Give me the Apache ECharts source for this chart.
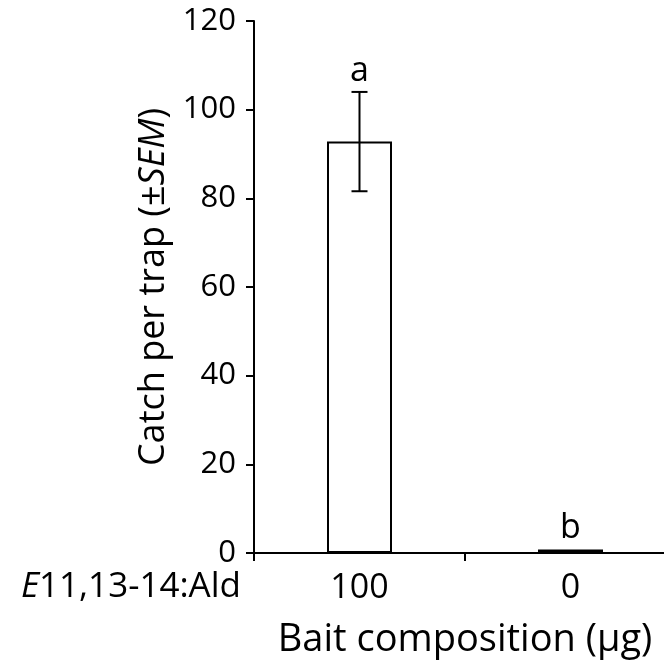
<!DOCTYPE html>
<html>
<head>
<meta charset="utf-8">
<script src="https://cdn.jsdelivr.net/npm/echarts@6/dist/echarts.min.js"></script>
<style>html,body{margin:0;padding:0;background:#fff;overflow:hidden;width:664px;height:664px;}#c{width:680px;height:664px;}</style>
</head>
<body>
<div id="c"></div>
<script>
var categories = ['100', '0'];
var means = [92.8, 0.8];
var sems = [11.2, 0];
var letters = ['a', 'b'];
var yTicks = [0, 20, 40, 60, 80, 100, 120];

var FONT = 'Open Sans';
var chart = echarts.init(document.getElementById('c'), null, {renderer: 'canvas'});
var option = {
  backgroundColor: '#ffffff',
  animation: false,
  grid: {left: 254, top: 21, right: 4, bottom: 111, containLabel: false},
  xAxis: {
    type: 'category',
    data: categories,
    boundaryGap: true,
    axisLine: {lineStyle: {color: '#000', width: 2}},
    axisTick: {show: true, length: 8, lineStyle: {color: '#000', width: 2}},
    axisLabel: {color: '#000', fontFamily: FONT, fontSize: 34, margin: 18},
    name: 'Bait composition (µg)',
    nameLocation: 'middle',
    nameGap: 68,
    nameTextStyle: {color: '#000', fontFamily: FONT, fontSize: 38}
  },
  yAxis: {
    type: 'value',
    min: yTicks[0],
    max: yTicks[yTicks.length - 1],
    interval: 20,
    splitLine: {show: false},
    axisLine: {show: true, lineStyle: {color: '#000', width: 2}},
    axisTick: {show: true, length: 8, lineStyle: {color: '#000', width: 2}},
    axisLabel: {color: '#000', fontFamily: FONT, fontSize: 31, margin: 18},
    name: '{n|Catch per trap (±}{i|SEM}{n|)}',
    nameLocation: 'middle',
    nameGap: 74,
    nameTextStyle: {
      rich: {
        n: {color: '#000', fontFamily: FONT, fontSize: 36},
        i: {color: '#000', fontFamily: FONT, fontSize: 36, fontStyle: 'italic'}
      }
    }
  },
  graphic: [{
    type: 'text',
    right: 680 - 241,
    top: 570,
    style: {
      rich: {
        i: {fontFamily: FONT, fontSize: 35, fontStyle: 'italic', fill: '#000'},
        n: {fontFamily: FONT, fontSize: 35, fill: '#000'}
      },
      text: '{i|E}{n|11,13-14:Ald}'
    }
  }],
  series: [
    {
      type: 'bar',
      data: means,
      barWidth: 65,
      itemStyle: {color: '#fff', borderColor: '#000', borderWidth: 2},
      z: 2
    },
    {
      type: 'custom',
      z: 5,
      data: means.map(function (m, i) { return [i, m, sems[i]]; }),
      renderItem: function (params, api) {
        var x = api.value(0), m = api.value(1), s = api.value(2);
        var letter = letters[params.dataIndex];
        var top = api.coord([x, m + s]);
        var bot = api.coord([x, m - s]);
        var children = [];
        if (s > 0) {
          var cap = 8;
          children.push({type: 'line', shape: {x1: top[0], y1: top[1], x2: bot[0], y2: bot[1]}, style: {stroke: '#000', lineWidth: 2}});
          children.push({type: 'line', shape: {x1: top[0] - cap, y1: top[1], x2: top[0] + cap, y2: top[1]}, style: {stroke: '#000', lineWidth: 2}});
          children.push({type: 'line', shape: {x1: bot[0] - cap, y1: bot[1], x2: bot[0] + cap, y2: bot[1]}, style: {stroke: '#000', lineWidth: 2}});
        }
        children.push({
          type: 'text',
          style: {text: letter, x: top[0], y: top[1] - 4, textAlign: 'center', textVerticalAlign: 'bottom',
                  fontFamily: FONT, fontSize: 34, fill: '#000'}
        });
        return {type: 'group', children: children};
      }
    }
  ]
};
chart.setOption(option);
</script>
</body>
</html>
